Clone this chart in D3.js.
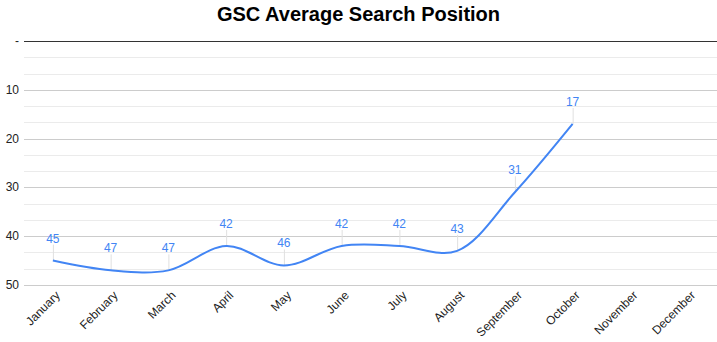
<!DOCTYPE html>
<html>
<head>
<meta charset="utf-8">
<script src="https://cdn.jsdelivr.net/npm/d3@7"></script>
<style>
  body { margin: 0; background: #fff; }
  text { font-family: Arial, "Liberation Sans", sans-serif; }
</style>
</head>
<body>
<div id="chart"></div>
<script>
// Data
var months = ["January", "February", "March", "April", "May", "June",
  "July", "August", "September", "October", "November", "December"];
var positions = [45, 47, 47, 42, 46, 42, 42, 43, 31, 17, null, null];
var yTicks = [0, 10, 20, 30, 40, 50];

var svgWidth = 717;
var svgHeight = 342;
var margin = { top: 41, right: 0, bottom: 57, left: 24 };
var width = svgWidth - margin.left - margin.right;
var height = svgHeight - margin.top - margin.bottom;

var svg = d3.select("#chart")
  .append("svg")
  .attr("width", svgWidth)
  .attr("height", svgHeight);

// Title
svg.append("text")
  .attr("x", svgWidth / 2)
  .attr("y", 21)
  .attr("text-anchor", "middle")
  .style("font-size", "20px")
  .style("font-weight", "bold")
  .attr("fill", "#000")
  .text("GSC Average Search Position");

var chartGroup = svg.append("g")
  .attr("transform", `translate(${margin.left}, ${margin.top})`);

// Scales (position axis runs downward)
var xScale = d3.scaleBand()
  .domain(months)
  .range([0, width]);
var yScale = d3.scaleLinear()
  .domain([0, 50])
  .range([0, height]);

// Minor gridlines
var minor = d3.range(0, 50.01, 10 / 3).filter(d => Math.abs(d / 10 - Math.round(d / 10)) > 0.01);
chartGroup.selectAll(".minor")
  .data(minor)
  .enter()
  .append("line")
  .attr("x1", 0)
  .attr("x2", width)
  .attr("y1", d => Math.round(yScale(d)) + 0.5)
  .attr("y2", d => Math.round(yScale(d)) + 0.5)
  .attr("stroke", "#ebebeb");

// Major gridlines
chartGroup.selectAll(".major")
  .data(yTicks)
  .enter()
  .append("line")
  .attr("x1", 0)
  .attr("x2", width)
  .attr("y1", d => Math.round(yScale(d)) + 0.5)
  .attr("y2", d => Math.round(yScale(d)) + 0.5)
  .attr("stroke", d => d === 0 ? "#333" : "#cccccc");

// Y labels
chartGroup.selectAll(".ylab")
  .data(yTicks)
  .enter()
  .append("text")
  .attr("x", -5)
  .attr("y", d => yScale(d) + 4)
  .attr("text-anchor", "end")
  .style("font-size", "12px")
  .attr("fill", "#222")
  .text(d => d === 0 ? "-" : d);

// X labels, rotated
var cx = d => xScale(d) + xScale.bandwidth() / 2;
chartGroup.selectAll(".xlab")
  .data(months)
  .enter()
  .append("text")
  .attr("transform", d => `translate(${cx(d) + 8}, ${height + 11}) rotate(-45)`)
  .attr("text-anchor", "end")
  .style("font-size", "12px")
  .attr("fill", "#222")
  .text(d => d);

var points = months.map((m, i) => ({ month: m, value: positions[i] }))
  .filter(d => d.value !== null);

// Leader lines for the data labels
chartGroup.selectAll(".leader")
  .data(points)
  .enter()
  .append("line")
  .attr("x1", d => cx(d.month) + 0.5)
  .attr("x2", d => cx(d.month) + 0.5)
  .attr("y1", d => yScale(d.value) - 16)
  .attr("y2", d => yScale(d.value))
  .attr("stroke", "#e0e0e0");

// Line
var line = d3.line()
  .x(d => cx(d.month))
  .y(d => yScale(d.value))
  .curve(d3.curveCatmullRom.alpha(0.5));

chartGroup.append("path")
  .datum(points)
  .attr("d", line)
  .attr("fill", "none")
  .attr("stroke", "#4285f4")
  .attr("stroke-width", 2);

// Data labels
chartGroup.selectAll(".dlab")
  .data(points)
  .enter()
  .append("text")
  .attr("x", d => cx(d.month))
  .attr("y", d => yScale(d.value) - 18)
  .attr("text-anchor", "middle")
  .style("font-size", "12px")
  .attr("fill", "#4285f4")
  .text(d => d.value);
</script>
</body>
</html>
